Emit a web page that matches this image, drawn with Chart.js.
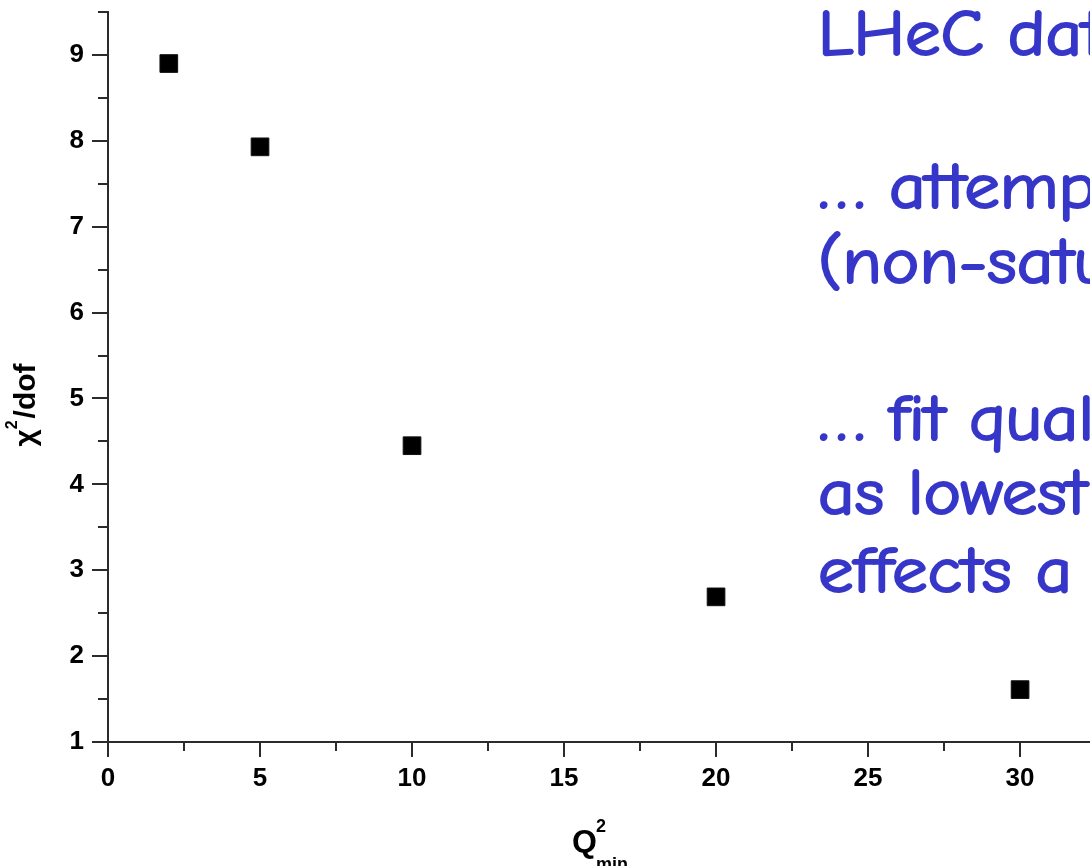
<!DOCTYPE html>
<html>
<head>
<meta charset="utf-8">
<title>chi2/dof vs Q2min</title>
<script src="https://cdn.jsdelivr.net/npm/chart.js@4.4.1/dist/chart.umd.min.js"></script>
<style>
    html, body { margin: 0; padding: 0; background: #fff; overflow: hidden; }
    #wrap { position: relative; width: 1090px; height: 866px; }
</style>
</head>
<body>
<div id="wrap"><canvas id="chi2Chart"></canvas></div>
<script>
// Fit quality as a function of the lowest Q^2 cut
const q2minValues = [2, 5, 10, 20, 30];
const chi2PerDof = [8.9, 7.93, 4.45, 2.69, 1.61];

// Axis ranges and tick steps
const xRange = [0, 32.3];
const yRange = [1, 9.5];
const xMajorStep = 5;
const yMajorStep = 1;

// Slide text on the right-hand side
const noteLines = [
    { text: 'LHeC dat', y: 55 },
    { text: '\u2026 attemp', y: 208 },
    { text: '(non-satu', y: 283 },
    { text: '\u2026 fit qual', y: 440 },
    { text: 'as lowest', y: 514 },
    { text: 'effects a', y: 592 }
];

const AXIS_COLOR = '#2b2b2b';
const SANS = '"Liberation Sans", Arial, sans-serif';
const TICK_FONT = { family: SANS, size: 26, weight: 'bold' };

// Half-step ticks, shorter than the labelled ones
const minorTicks = {
    id: 'minorTicks',
    afterDraw(chart) {
        const { ctx, scales: { x, y } } = chart;
        ctx.save();
        ctx.strokeStyle = AXIS_COLOR;
        ctx.lineWidth = 2;
        ctx.beginPath();
        for (let v = xRange[0] + xMajorStep / 2; v <= xRange[1]; v += xMajorStep) {
            const px = Math.round(x.getPixelForValue(v));
            ctx.moveTo(px, x.top);
            ctx.lineTo(px, x.top + 9);
        }
        for (let v = yRange[0] + yMajorStep / 2; v <= yRange[1] + 1e-9; v += yMajorStep) {
            const py = Math.round(y.getPixelForValue(v));
            ctx.moveTo(y.right - 10, py);
            ctx.lineTo(y.right, py);
        }
        ctx.stroke();
        ctx.restore();
    }
};

// Axis titles with super/subscripts, plus the blue notes
const annotations = {
    id: 'annotations',
    afterDraw(chart) {
        const { ctx } = chart;
        ctx.save();
        ctx.fillStyle = '#000';
        ctx.textBaseline = 'alphabetic';

        // y title: chi^2/dof, rotated
        ctx.save();
        ctx.translate(35, 405);
        ctx.rotate(-Math.PI / 2);
        const big = 'bold 30px ' + SANS;
        const small = 'bold 16px ' + SANS;
        ctx.font = big;
        const wChi = ctx.measureText('\u03c7').width;
        const wRest = ctx.measureText('/dof').width;
        ctx.font = small;
        const wSup = ctx.measureText('2').width + 2;
        let sx = -(wChi + wSup + wRest) / 2;
        ctx.font = big;
        ctx.fillText('\u03c7', sx, 0);
        sx += wChi;
        ctx.font = small;
        ctx.fillText('2', sx, -18);
        sx += wSup;
        ctx.font = big;
        ctx.fillText('/dof', sx, 0);
        ctx.restore();

        // x title: Q^2_min
        const qx = 572;
        const qBase = 852;
        ctx.font = 'bold 32px ' + SANS;
        ctx.fillText('Q', qx, qBase);
        const wQ = ctx.measureText('Q').width;
        ctx.font = 'bold 18px ' + SANS;
        ctx.fillText('2', qx + wQ - 1, qBase - 20);
        ctx.fillText('min', qx + wQ - 1, qBase + 18);

        // notes, widened a little to the proportions of the slide face
        ctx.fillStyle = '#3636c9';
        ctx.strokeStyle = '#3636c9';
        ctx.lineWidth = 2;
        ctx.lineJoin = 'round';
        ctx.font = '64px "Comic Sans MS", "Comic Neue", Lato, sans-serif';
        noteLines.forEach(line => {
            ctx.save();
            ctx.translate(818, line.y);
            ctx.scale(1.11, 1);
            ctx.fillText(line.text, 0, 0);
            ctx.strokeText(line.text, 0, 0);
            ctx.restore();
        });
        ctx.restore();
    }
};

// Drop the label-driven padding so the plot frame sits where it is set
const noLabelPadding = (scale) => {
    scale.paddingTop = 0;
    scale.paddingBottom = 0;
    scale.paddingLeft = 0;
    scale.paddingRight = 0;
};

const ctx = document.getElementById('chi2Chart').getContext('2d');
new Chart(ctx, {
    type: 'scatter',
    data: {
        datasets: [{
            label: 'chi2/dof',
            data: q2minValues.map((q, i) => ({ x: q, y: chi2PerDof[i] })),
            pointStyle: 'rect',
            pointRadius: 12.5,
            pointHoverRadius: 12.5,
            backgroundColor: '#000',
            borderColor: '#111',
            borderWidth: 1
        }]
    },
    options: {
        responsive: true,
        maintainAspectRatio: false,
        animation: false,
        clip: false,
        layout: { autoPadding: false, padding: { top: 12, right: 0, bottom: 0, left: 0 } },
        plugins: {
            legend: { display: false },
            tooltip: { enabled: false }
        },
        scales: {
            x: {
                type: 'linear',
                min: xRange[0],
                max: xRange[1],
                grid: { drawOnChartArea: false, tickLength: 15, color: AXIS_COLOR, lineWidth: 2 },
                border: { color: AXIS_COLOR, width: 2 },
                ticks: {
                    stepSize: xMajorStep,
                    includeBounds: false,
                    color: '#000',
                    font: TICK_FONT,
                    padding: 6,
                    maxRotation: 0
                },
                afterFit: (scale) => { scale.height = 124; noLabelPadding(scale); }
            },
            y: {
                type: 'linear',
                min: yRange[0],
                max: yRange[1],
                grid: { drawOnChartArea: false, tickLength: 16, color: AXIS_COLOR, lineWidth: 2 },
                border: { color: AXIS_COLOR, width: 2 },
                ticks: {
                    stepSize: yMajorStep,
                    includeBounds: false,
                    color: '#000',
                    font: TICK_FONT,
                    padding: 8
                },
                afterFit: (scale) => { scale.width = 108; noLabelPadding(scale); }
            }
        }
    },
    plugins: [minorTicks, annotations]
});
</script>
</body>
</html>
